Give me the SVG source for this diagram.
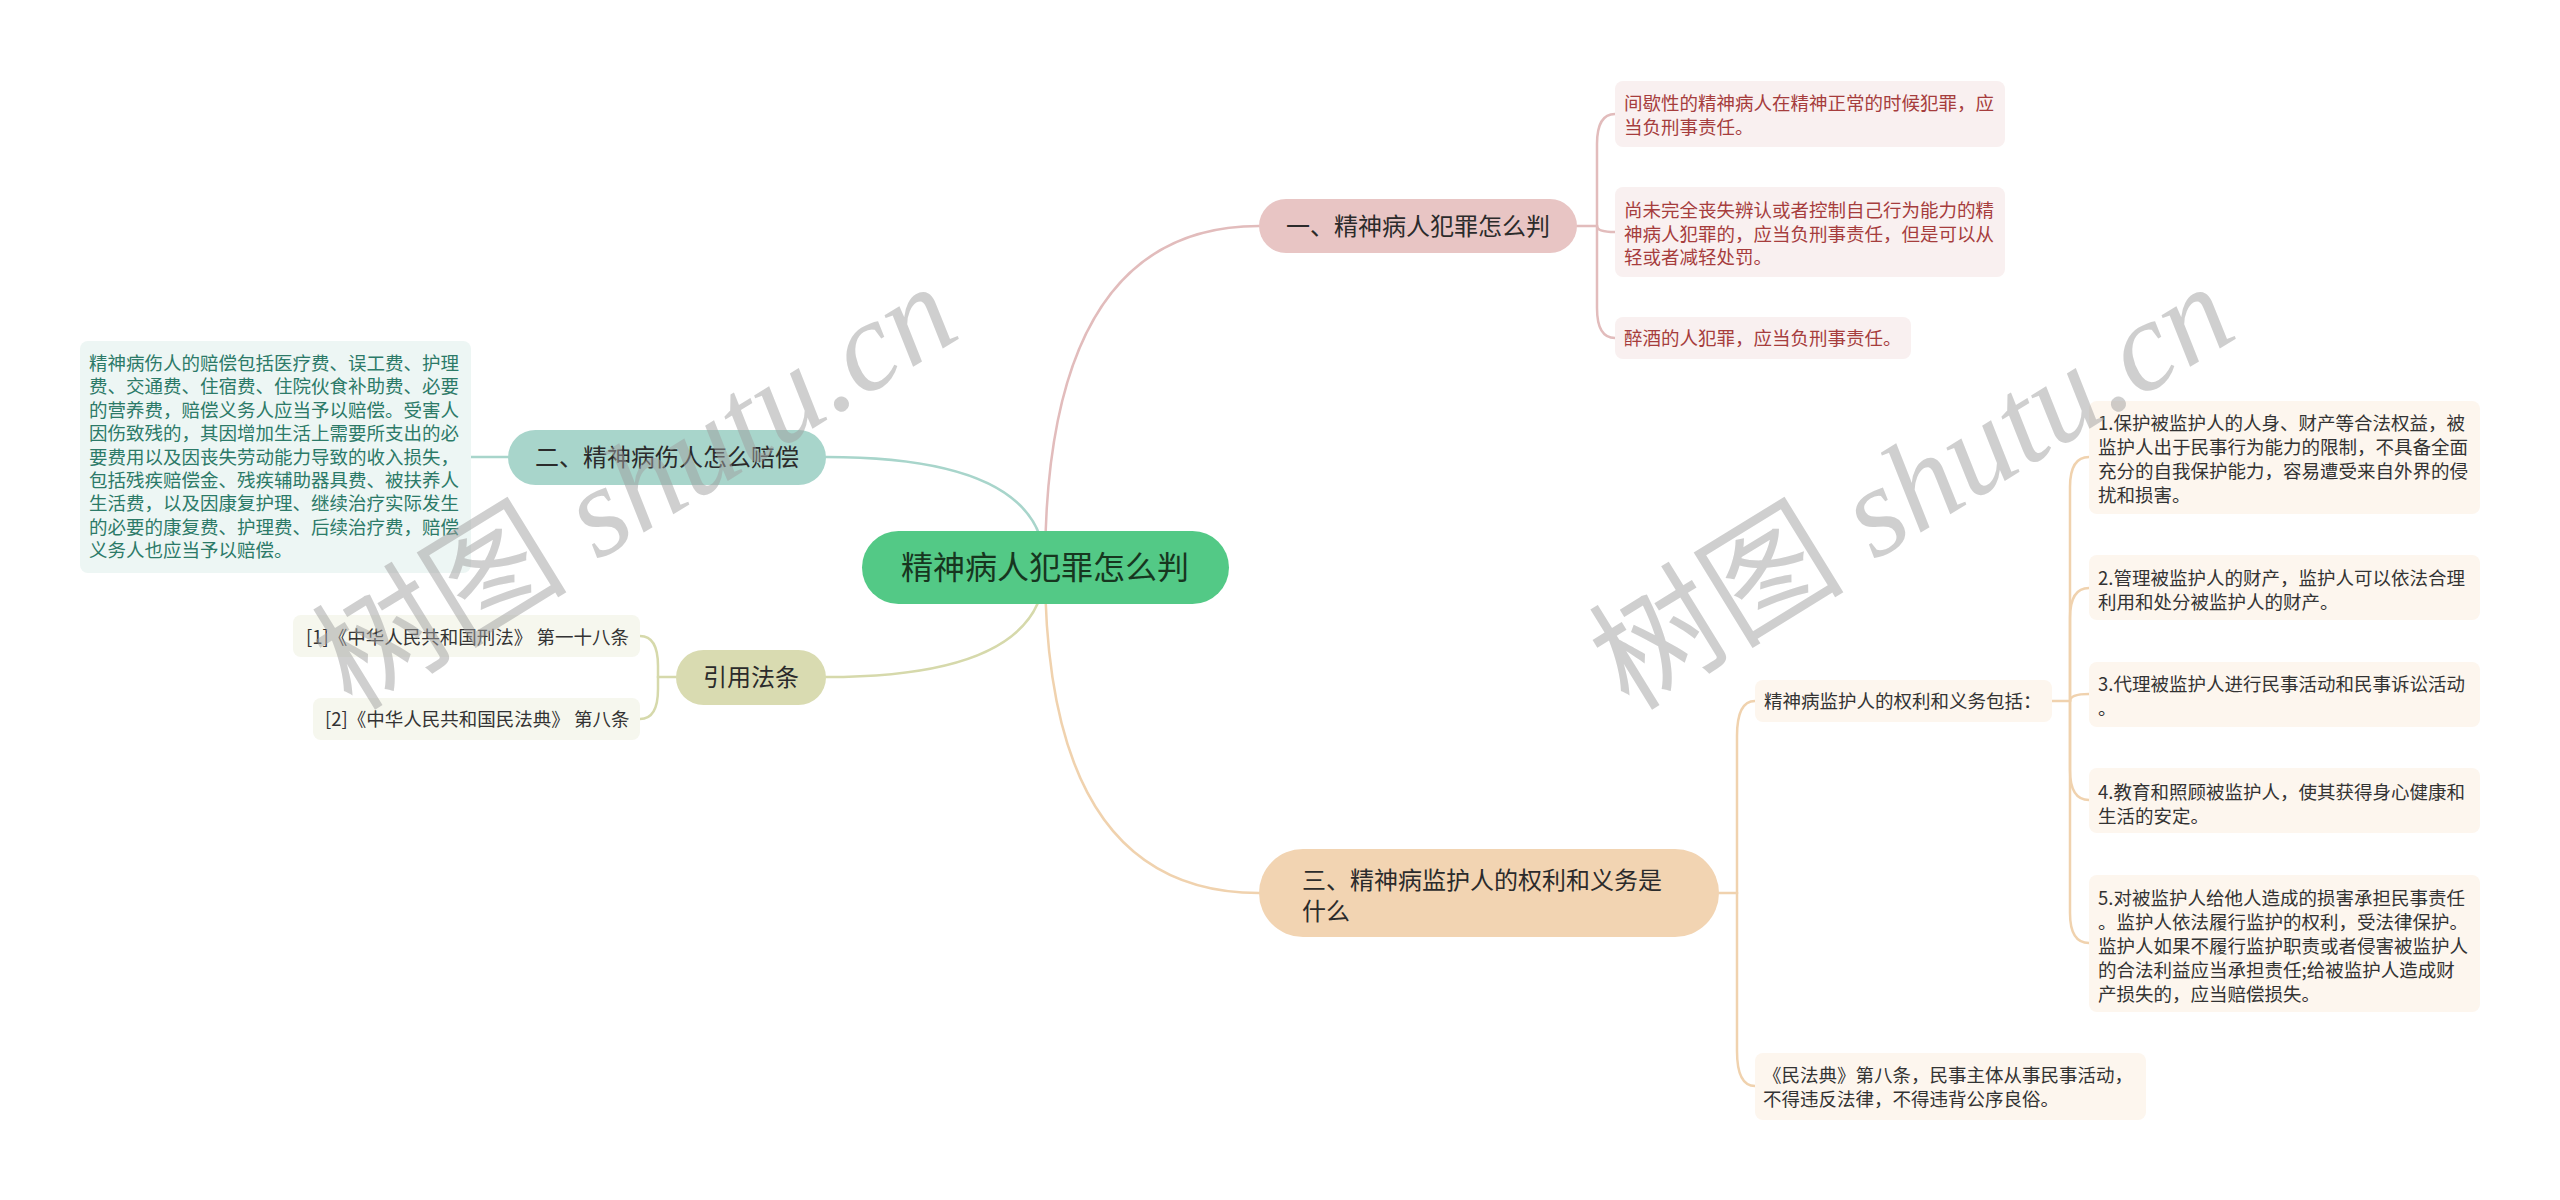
<svg xmlns="http://www.w3.org/2000/svg" width="2560" height="1200" viewBox="0 0 2560 1200">
<style>
text { font-family: "Noto Sans CJK SC", "Noto Sans", sans-serif; }
.root { font-size: 32px; fill: #17361f; text-anchor: middle; }
.br { font-size: 24px; fill: #2b2b2b; }
.brc { text-anchor: middle; }
.leaf { font-size: 18.5px; fill: #333333; }
.red { fill: #a63d3d; }
.tealt { fill: #2c7a68; }
.c { fill: none; stroke-width: 2.5; stroke-linecap: round; }
.pink { stroke: #e2bcbc; }
.teal { stroke: #a8d5cb; }
.olive { stroke: #d6d9ab; }
.peach { stroke: #f0d2ae; }
.bx1 { fill: #f9f0f0; }
.bx2 { fill: #edf6f4; }
.bx4 { fill: #f6f7ee; }
.bx3 { fill: #fdf6ee; }
.wm { font-size: 128px; fill: #a0a0a0; opacity: 0.5; }
</style>
<rect x="0" y="0" width="2560" height="1200" fill="#ffffff"/>

<g id="connectors">
  <path class="c pink" d="M1045,567 Q1045,226 1259,226"/>
  <path class="c teal" d="M1045,567 Q1045,457 826,457"/>
  <path class="c olive" d="M1045,567 Q1045,677 826,677"/>
  <path class="c peach" d="M1045,567 Q1045,893 1259,893"/>

  <path class="c pink" d="M1577,226 H1597"/>
  <path class="c pink" d="M1597,226 V144 Q1597,114 1615,114"/>
  <path class="c pink" d="M1597,226 Q1597,232 1615,232"/>
  <path class="c pink" d="M1597,226 V308 Q1597,338 1615,338"/>

  <path class="c teal" d="M508,457 H471"/>

  <path class="c olive" d="M676,677 H658"/>
  <path class="c olive" d="M658,677 V666 Q658,636 640,636"/>
  <path class="c olive" d="M658,677 V689 Q658,719 640,719"/>

  <path class="c peach" d="M1719,893 H1737"/>
  <path class="c peach" d="M1737,893 V736 Q1737,701 1755,701"/>
  <path class="c peach" d="M1737,893 V1051 Q1737,1086 1755,1086"/>

  <path class="c peach" d="M2052,701 H2070"/>
  <path class="c peach" d="M2070,701 V487 Q2070,457 2089,457"/>
  <path class="c peach" d="M2070,701 V618 Q2070,588 2089,588"/>
  <path class="c peach" d="M2070,701 Q2070,694 2089,694"/>
  <path class="c peach" d="M2070,701 V770 Q2070,800 2089,800"/>
  <path class="c peach" d="M2070,701 V913 Q2070,943 2089,943"/>
</g>

<g id="root">
  <rect x="862" y="531" width="367" height="73" rx="36.5" fill="#53c986"/>
  <text class="root" x="1045" y="579">精神病人犯罪怎么判</text>
</g>

<g id="branch1">
  <rect x="1259" y="199" width="318" height="54" rx="27" fill="#e8c5c4"/>
  <text class="br brc" x="1418" y="235">一、精神病人犯罪怎么判</text>
</g>
<g id="b1-1">
  <rect class="bx1" x="1615" y="81" width="390" height="66" rx="8"/>
  <text class="leaf red" x="1624" y="110">间歇性的精神病人在精神正常的时候犯罪，应<tspan x="1624" dy="24">当负刑事责任。</tspan></text>
</g>
<g id="b1-2">
  <rect class="bx1" x="1615" y="187" width="390" height="90" rx="8"/>
  <text class="leaf red" x="1624" y="217">尚未完全丧失辨认或者控制自己行为能力的精<tspan x="1624" dy="23.5">神病人犯罪的，应当负刑事责任，但是可以从</tspan><tspan x="1624" dy="23.5">轻或者减轻处罚。</tspan></text>
</g>
<g id="b1-3">
  <rect class="bx1" x="1615" y="317" width="296" height="42" rx="8"/>
  <text class="leaf red" x="1624" y="345">醉酒的人犯罪，应当负刑事责任。</text>
</g>

<g id="branch2">
  <rect x="508" y="430" width="318" height="55" rx="27.5" fill="#a8d5cb"/>
  <text class="br brc" x="667" y="466">二、精神病伤人怎么赔偿</text>
</g>
<g id="b2-1">
  <rect class="bx2" x="80" y="341" width="391" height="232" rx="8"/>
  <text class="leaf tealt" x="89" y="370">精神病伤人的赔偿包括医疗费、误工费、护理<tspan x="89" dy="23.4">费、交通费、住宿费、住院伙食补助费、必要</tspan><tspan x="89" dy="23.4">的营养费，赔偿义务人应当予以赔偿。受害人</tspan><tspan x="89" dy="23.4">因伤致残的，其因增加生活上需要所支出的必</tspan><tspan x="89" dy="23.4">要费用以及因丧失劳动能力导致的收入损失，</tspan><tspan x="89" dy="23.4">包括残疾赔偿金、残疾辅助器具费、被扶养人</tspan><tspan x="89" dy="23.4">生活费，以及因康复护理、继续治疗实际发生</tspan><tspan x="89" dy="23.4">的必要的康复费、护理费、后续治疗费，赔偿</tspan><tspan x="89" dy="23.4">义务人也应当予以赔偿。</tspan></text>
</g>

<g id="branch4">
  <rect x="676" y="650" width="150" height="55" rx="27.5" fill="#d9dbb1"/>
  <text class="br brc" x="751" y="686">引用法条</text>
</g>
<g id="b4-1">
  <rect class="bx4" x="293" y="615" width="347" height="42" rx="8"/>
  <text class="leaf" x="306" y="644">[1]《中华人民共和国刑法》 第一十八条</text>
</g>
<g id="b4-2">
  <rect class="bx4" x="313" y="698" width="327" height="42" rx="8"/>
  <text class="leaf" x="325" y="726">[2]《中华人民共和国民法典》 第八条</text>
</g>

<g id="branch3">
  <rect x="1259" y="849" width="460" height="88" rx="44" fill="#f2d4b2"/>
  <text class="br" x="1302" y="889">三、精神病监护人的权利和义务是<tspan x="1302" dy="31">什么</tspan></text>
</g>
<g id="b3-1">
  <rect class="bx3" x="1755" y="680" width="297" height="42" rx="8"/>
  <text class="leaf" x="1764" y="708">精神病监护人的权利和义务包括：</text>
</g>
<g id="b3-2">
  <rect class="bx3" x="1755" y="1053" width="391" height="67" rx="8"/>
  <text class="leaf" x="1763" y="1082">《民法典》第八条，民事主体从事民事活动，<tspan x="1763" dy="24">不得违反法律，不得违背公序良俗。</tspan></text>
</g>
<g id="g1">
  <rect class="bx3" x="2089" y="401" width="391" height="113" rx="8"/>
  <text class="leaf" x="2098" y="430">1.保护被监护人的人身、财产等合法权益，被<tspan x="2098" dy="24">监护人出于民事行为能力的限制，不具备全面</tspan><tspan x="2098" dy="24">充分的自我保护能力，容易遭受来自外界的侵</tspan><tspan x="2098" dy="24">扰和损害。</tspan></text>
</g>
<g id="g2">
  <rect class="bx3" x="2089" y="555" width="391" height="65" rx="8"/>
  <text class="leaf" x="2098" y="585">2.管理被监护人的财产，监护人可以依法合理<tspan x="2098" dy="24">利用和处分被监护人的财产。</tspan></text>
</g>
<g id="g3">
  <rect class="bx3" x="2089" y="662" width="391" height="65" rx="8"/>
  <text class="leaf" x="2098" y="691">3.代理被监护人进行民事活动和民事诉讼活动<tspan x="2098" dy="24">。</tspan></text>
</g>
<g id="g4">
  <rect class="bx3" x="2089" y="768" width="391" height="65" rx="8"/>
  <text class="leaf" x="2098" y="799">4.教育和照顾被监护人，使其获得身心健康和<tspan x="2098" dy="24">生活的安定。</tspan></text>
</g>
<g id="g5">
  <rect class="bx3" x="2089" y="875" width="391" height="137" rx="8"/>
  <text class="leaf" x="2098" y="905">5.对被监护人给他人造成的损害承担民事责任<tspan x="2098" dy="24">。监护人依法履行监护的权利，受法律保护。</tspan><tspan x="2098" dy="24">监护人如果不履行监护职责或者侵害被监护人</tspan><tspan x="2098" dy="24">的合法利益应当承担责任;给被监护人造成财</tspan><tspan x="2098" dy="24">产损失的，应当赔偿损失。</tspan></text>
</g>

<g id="watermark">
  <text class="wm" transform="translate(352,712) rotate(-31.6)"><tspan font-family="Noto Sans CJK SC, sans-serif">树图</tspan><tspan font-family="Liberation Serif, serif" font-style="italic"> shutu.cn</tspan></text>
  <text class="wm" transform="translate(1629,712) rotate(-31.6)"><tspan font-family="Noto Sans CJK SC, sans-serif">树图</tspan><tspan font-family="Liberation Serif, serif" font-style="italic"> shutu.cn</tspan></text>
</g>
</svg>
